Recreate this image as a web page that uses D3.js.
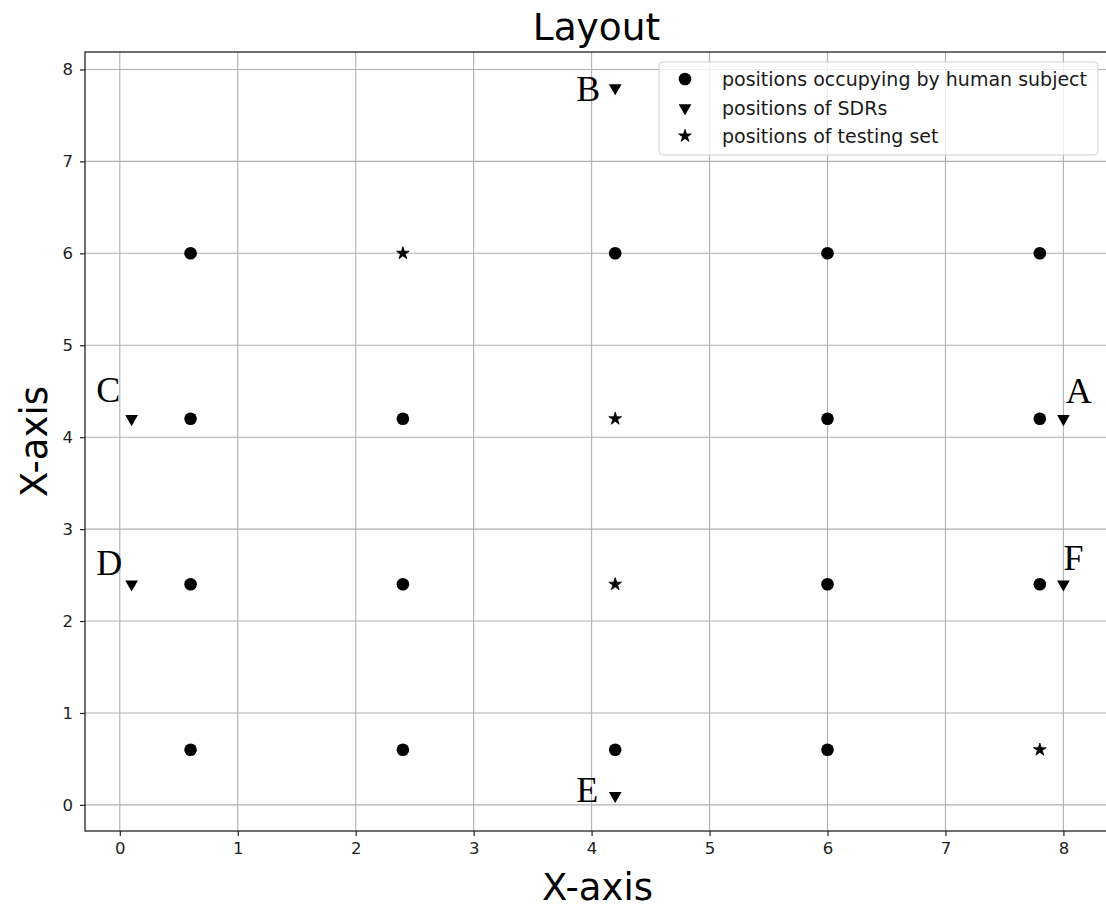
<!DOCTYPE html>
<html>
<head>
<meta charset="utf-8">
<script src="https://cdn.jsdelivr.net/npm/d3@7"></script>
<style>
html,body{margin:0;padding:0;background:#fff;}
svg{display:block;}
</style>
</head>
<body>
<svg id="chart" width="1106" height="908"></svg>
<script>
// ---- data ----
const humanX = [0.6, 2.4, 4.2, 6.0, 0.6, 2.4, 6.0, 7.8, 0.6, 2.4, 6.0, 7.8, 0.6, 4.2, 6.0, 7.8];
const humanY = [0.6, 0.6, 0.6, 0.6, 2.4, 2.4, 2.4, 2.4, 4.2, 4.2, 4.2, 4.2, 6.0, 6.0, 6.0, 6.0];
const sdrX = [8.0, 4.2, 0.1, 0.1, 4.2, 8.0];
const sdrY = [4.2, 7.8, 4.2, 2.4, 0.1, 2.4];
const testX = [4.2, 4.2, 2.4, 7.8];
const testY = [2.4, 4.2, 6.0, 0.6];
const sdrNames = ["A", "B", "C", "D", "E", "F"];
const labelX = [8.02, 3.87, -0.2, -0.2, 3.87, 8.0];
const labelY = [4.37, 7.66, 4.38, 2.5, 0.03, 2.56];
const xTicks = [0, 1, 2, 3, 4, 5, 6, 7, 8];
const yTicks = [0, 1, 2, 3, 4, 5, 6, 7, 8];
const legendLabels = ["positions occupying by human subject", "positions of SDRs", "positions of testing set"];
const titleText = "Layout";
const xLabel = "X-axis";
const yLabel = "X-axis";

(function () {
// ---- layout ----
const svg = d3.select("#chart");
const pL = 85, pR = 1110, pT = 52, pB = 831;
const x = d3.scaleLinear().domain([-0.295, 8.395]).range([pL, pR]);
const y = d3.scaleLinear().domain([-0.284, 8.19]).range([pB, pT]);
const sans = "'DejaVu Sans', sans-serif";
const serif = "'Liberation Serif', 'DejaVu Serif', serif";

// grid
const grid = svg.append("g");
grid.selectAll("line.gx").data(xTicks).enter().append("line")
  .attr("x1", d => x(d)).attr("x2", d => x(d)).attr("y1", pT).attr("y2", pB)
  .attr("stroke", "#b0b0b0").attr("stroke-width", 1.1);
grid.selectAll("line.gy").data(yTicks).enter().append("line")
  .attr("y1", d => y(d)).attr("y2", d => y(d)).attr("x1", pL).attr("x2", pR)
  .attr("stroke", "#b0b0b0").attr("stroke-width", 1.1);

// axes
const xAxis = svg.append("g").attr("transform", `translate(0,${pB})`)
  .call(d3.axisBottom(x).tickValues(xTicks).tickFormat(d3.format("d")).tickSize(5).tickPadding(6));
const yAxis = svg.append("g").attr("transform", `translate(${pL},0)`)
  .call(d3.axisLeft(y).tickValues(yTicks).tickFormat(d3.format("d")).tickSize(5).tickPadding(7));
[xAxis, yAxis].forEach(a => {
  a.select(".domain").remove();
  a.selectAll(".tick line").attr("stroke", "#222").attr("stroke-width", 1.2);
  a.selectAll(".tick text").attr("font-family", sans).attr("font-size", 16.5).attr("fill", "#222");
});

// spines
svg.append("rect").attr("x", pL).attr("y", pT).attr("width", pR - pL).attr("height", pB - pT)
  .attr("fill", "none").attr("stroke", "#222").attr("stroke-width", 1.3);

// markers
const plot = svg.append("g");
plot.selectAll("circle.h").data(d3.range(humanX.length)).enter().append("circle")
  .attr("cx", i => x(humanX[i])).attr("cy", i => y(humanY[i])).attr("r", 6.3).attr("fill", "#000");

const triDown = d3.symbol().type(d3.symbolTriangle).size(70);
plot.selectAll("path.s").data(d3.range(sdrX.length)).enter().append("path")
  .attr("d", triDown)
  .attr("transform", i => `translate(${x(sdrX[i])},${y(sdrY[i])}) rotate(180)`)
  .attr("fill", "#000");

const star = d3.symbol().type(d3.symbolStar).size(50);
plot.selectAll("path.t").data(d3.range(testX.length)).enter().append("path")
  .attr("d", star)
  .attr("transform", i => `translate(${x(testX[i])},${y(testY[i])})`)
  .attr("fill", "#000").attr("stroke", "#000").attr("stroke-width", 0.8);

// SDR labels
svg.selectAll("text.lab").data(d3.range(sdrNames.length)).enter().append("text")
  .attr("x", i => x(labelX[i])).attr("y", i => y(labelY[i]))
  .attr("font-family", serif).attr("font-size", 36).attr("fill", "#000")
  .text(i => sdrNames[i]);

// legend
const lg = svg.append("g");
lg.append("rect").attr("x", 659).attr("y", 62).attr("width", 439).attr("height", 93).attr("rx", 4)
  .attr("fill", "#fff").attr("fill-opacity", 0.8).attr("stroke", "#d0d0d0").attr("stroke-width", 1);
const rowY = [79, 108, 136];
lg.append("circle").attr("cx", 685).attr("cy", rowY[0]).attr("r", 6.3).attr("fill", "#000");
lg.append("path").attr("d", triDown).attr("transform", `translate(685,${rowY[1]}) rotate(180)`).attr("fill", "#000");
lg.append("path").attr("d", star).attr("transform", `translate(685,${rowY[2]})`).attr("fill", "#000").attr("stroke", "#000").attr("stroke-width", 0.8);
lg.selectAll("text").data(legendLabels).enter().append("text")
  .attr("x", 722).attr("y", (d, i) => rowY[i]).attr("dy", "0.35em")
  .attr("font-family", sans).attr("font-size", 19).attr("fill", "#1a1a1a").text(d => d);

// title and axis labels
svg.append("text").attr("x", (pL + pR) / 2 - 1).attr("y", 40).attr("text-anchor", "middle")
  .attr("font-family", sans).attr("font-size", 37.5).attr("fill", "#000").text(titleText);
svg.append("text").attr("x", (pL + pR) / 2).attr("y", 900).attr("text-anchor", "middle")
  .attr("font-family", sans).attr("font-size", 37).attr("fill", "#000").text(xLabel);
svg.append("text").attr("transform", `translate(47,${(pT + pB) / 2}) rotate(-90)`).attr("text-anchor", "middle")
  .attr("font-family", sans).attr("font-size", 37).attr("fill", "#000").text(yLabel);
})();
</script>
</body>
</html>
